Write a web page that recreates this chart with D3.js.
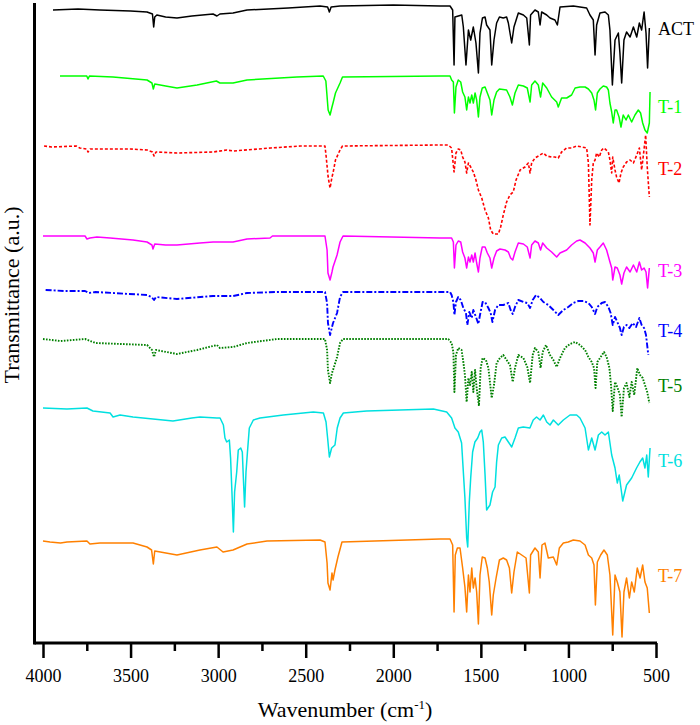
<!DOCTYPE html>
<html lang="en">
<head>
    <meta charset="UTF-8">
    <title>FTIR spectra</title>
    <style>
        body { margin: 0; background: #fff; }
        text { font-family: "Liberation Serif", "Times New Roman", serif; }
        .spectrum { fill: none; stroke-linejoin: round; }
    </style>
    <script src="https://d3js.org/d3.v7.min.js"></script>
</head>
<body>
    <svg width="700" height="725"></svg>
    <script>
        // Spectra: [wavenumber (cm-1), transmittance (a.u., offset for stacking)]
        const act = [
            [3943,633],[3800,634],[3675,633],[3500,632],[3406,631],[3375,629],[3368,616],[3362,626],[3350,628],
            [3300,626],[3235,625],[3150,627],[3029,629],[3007,627],[2990,629],[2915,630],[2835,633],[2600,635],
            [2418,637],[2375,636],[2365,631],[2355,636],[2304,637],[2000,638],[1733,637],[1676,637],[1661,633],
            [1653,578],[1648,626],[1609,628],[1600,616],[1585,578],[1571,613],[1558,603],[1543,616],[1528,600],
            [1514,570],[1505,610],[1491,625],[1476,626],[1467,618],[1448,613],[1438,578],[1425,603],[1410,620],
            [1394,626],[1372,625],[1353,626],[1343,620],[1324,600],[1311,616],[1286,630],[1257,628],[1238,625],
            [1223,598],[1216,628],[1191,633],[1172,631],[1162,618],[1153,631],[1124,628],[1105,625],[1077,623],
            [1063,618],[1048,636],[972,637],[934,636],[896,635],[877,628],[858,623],[848,588],[839,618],[820,630],
            [791,631],[772,628],[763,613],[749,558],[734,603],[715,610],[706,590],[696,560],[683,603],[668,611],
            [648,606],[629,616],[610,606],[595,620],[582,613],[568,631],[557,610],[548,575],[538,615]
        ];
        const t1 = [
            [3903,567],[3800,567],[3750,567],[3743,564],[3735,567],[3600,566],[3406,563],[3378,560],[3370,554],
            [3362,559],[3300,557],[3235,555],[3120,558],[3010,562],[2990,560],[2915,560],[2835,563],[2550,566],
            [2400,567],[2385,562],[2372,533],[2361,528],[2350,536],[2344,540],[2330,550],[2304,560],[2290,566],
            [1733,567],[1676,567],[1667,563],[1657,561],[1651,530],[1642,556],[1629,563],[1615,561],[1604,551],
            [1591,546],[1581,533],[1571,546],[1562,540],[1552,548],[1543,540],[1533,550],[1524,543],[1514,526],
            [1505,546],[1492,555],[1476,556],[1463,550],[1448,543],[1438,528],[1425,543],[1410,551],[1394,554],
            [1353,553],[1334,546],[1320,538],[1305,550],[1286,558],[1257,557],[1235,555],[1219,541],[1210,558],
            [1191,562],[1172,558],[1159,546],[1147,560],[1124,555],[1096,546],[1067,541],[1058,536],[1039,545],
            [1010,545],[982,548],[962,555],[934,556],[905,556],[886,554],[867,550],[854,543],[845,533],[835,550],
            [820,554],[801,557],[782,556],[772,553],[763,540],[753,531],[744,520],[734,533],[725,533],[711,526],
            [700,516],[687,528],[671,523],[658,528],[639,521],[620,528],[601,533],[588,530],[576,520],[563,513],
            [550,510],[538,520],[534,551]
        ];
        const t2 = [
            [3994,497],[3950,496],[3810,497],[3790,495],[3750,494],[3743,491],[3730,494],[3500,494],[3406,493],
            [3375,491],[3366,487],[3355,491],[3235,490],[3029,491],[2950,493],[2915,492],[2700,495],[2530,497],
            [2390,497],[2383,486],[2372,466],[2361,455],[2350,466],[2344,470],[2330,483],[2304,493],[2290,497],
            [1733,498],[1686,498],[1667,495],[1653,471],[1642,490],[1629,494],[1615,493],[1604,486],[1591,481],
            [1581,470],[1571,480],[1558,476],[1543,471],[1528,463],[1514,453],[1495,445],[1476,433],[1457,425],
            [1444,413],[1429,409],[1400,409],[1387,416],[1372,428],[1353,441],[1334,448],[1315,451],[1299,463],
            [1276,473],[1248,476],[1229,480],[1219,470],[1210,480],[1191,485],[1162,488],[1143,490],[1124,487],
            [1096,486],[1077,486],[1058,485],[1039,491],[1010,495],[982,495],[953,497],[924,496],[896,495],
            [886,480],[877,418],[867,463],[858,480],[848,483],[839,490],[824,486],[810,493],[797,495],[772,491],
            [763,483],[753,470],[747,486],[734,473],[725,466],[711,460],[700,470],[687,476],[668,481],[648,483],
            [629,480],[610,488],[595,495],[582,473],[572,488],[559,508],[550,476],[538,446]
        ];
        const t3 = [
            [4000,407],[3760,407],[3749,404],[3732,405],[3692,406],[3617,405],[3486,403],[3406,401],[3378,398],
            [3372,394],[3362,399],[3300,398],[3235,398],[3104,400],[3029,401],[2915,401],[2835,404],[2704,405],
            [2690,407],[2390,407],[2378,393],[2373,370],[2361,363],[2350,371],[2344,376],[2321,388],[2304,401],
            [2287,407],[1733,405],[1667,405],[1657,401],[1651,375],[1642,398],[1629,402],[1615,401],[1604,391],
            [1591,385],[1581,375],[1571,386],[1562,381],[1552,388],[1543,381],[1533,390],[1524,380],[1514,371],
            [1505,385],[1492,396],[1476,396],[1463,390],[1448,385],[1438,375],[1425,385],[1410,392],[1391,394],
            [1362,393],[1343,391],[1330,385],[1318,383],[1305,391],[1286,400],[1257,399],[1235,396],[1219,385],
            [1210,398],[1191,402],[1172,400],[1159,393],[1147,400],[1124,395],[1096,391],[1067,386],[1048,390],
            [1010,393],[982,398],[953,402],[934,403],[905,400],[877,395],[858,390],[848,381],[835,393],[820,396],
            [801,400],[782,393],[763,381],[753,375],[747,363],[734,376],[721,375],[706,368],[696,359],[683,370],
            [668,376],[648,371],[629,378],[610,371],[595,381],[582,373],[568,375],[557,371],[548,355],[538,375]
        ];
        const t4 = [
            [3985,353],[3875,352],[3760,352],[3738,350],[3700,351],[3406,348],[3380,346],[3366,343],[3355,346],
            [3235,344],[3029,347],[2915,347],[2835,350],[2664,351],[2390,351],[2378,340],[2373,320],[2361,308],
            [2350,316],[2344,320],[2321,330],[2304,346],[2287,351],[1733,351],[1676,351],[1667,348],[1657,341],
            [1651,328],[1642,341],[1629,346],[1615,343],[1600,335],[1585,330],[1577,318],[1566,331],[1552,325],
            [1543,333],[1528,326],[1514,319],[1505,328],[1490,341],[1476,341],[1457,335],[1444,330],[1434,321],
            [1419,333],[1400,338],[1372,338],[1343,340],[1330,333],[1318,329],[1305,336],[1286,343],[1257,341],
            [1235,340],[1219,335],[1204,343],[1185,348],[1162,345],[1143,341],[1115,338],[1086,333],[1058,328],
            [1029,333],[1001,336],[972,340],[943,342],[915,342],[886,340],[867,336],[848,329],[835,336],[810,340],
            [791,341],[772,336],[759,330],[747,318],[734,326],[721,321],[706,315],[696,308],[683,316],[668,318],
            [652,315],[633,320],[614,316],[595,325],[582,318],[568,315],[557,308],[544,288]
        ];
        const t5 = [
            [4000,304],[3900,302],[3760,304],[3700,300],[3406,298],[3378,293],[3366,286],[3355,293],[3235,289],
            [3120,293],[3007,298],[2990,295],[2915,296],[2835,300],[2664,304],[2390,304],[2378,293],[2373,273],
            [2361,260],[2350,270],[2344,273],[2321,286],[2304,300],[2287,304],[1733,304],[1686,304],[1667,300],
            [1657,291],[1651,251],[1642,288],[1629,295],[1610,293],[1600,281],[1591,268],[1581,241],[1571,265],
            [1562,258],[1552,271],[1543,251],[1533,273],[1524,255],[1511,237],[1501,275],[1490,285],[1471,283],
            [1457,275],[1448,261],[1438,245],[1425,258],[1410,280],[1391,285],[1372,288],[1353,283],[1334,278],
            [1318,261],[1305,275],[1286,288],[1257,285],[1235,276],[1219,260],[1204,288],[1191,295],[1172,291],
            [1159,275],[1147,291],[1128,298],[1105,288],[1086,283],[1067,276],[1048,285],[1020,295],[991,299],
            [962,301],[934,298],[905,293],[886,286],[867,281],[854,275],[845,255],[835,281],[816,286],[797,291],
            [782,286],[766,275],[757,258],[747,232],[734,261],[721,256],[706,248],[696,226],[683,255],[668,260],
            [652,246],[639,261],[624,248],[607,275],[591,268],[576,265],[563,258],[550,251],[538,240]
        ];
        const t6 = [
            [4000,235],[3863,234],[3749,235],[3715,232],[3617,230],[3600,226],[3560,228],[3486,226],[3372,224],
            [3258,222],[3150,225],[3104,226],[3007,225],[2989,225],[2970,218],[2961,205],[2951,201],[2936,203],
            [2929,185],[2921,150],[2913,111],[2906,151],[2894,171],[2885,193],[2871,195],[2862,191],[2856,165],
            [2849,136],[2841,171],[2833,190],[2822,215],[2799,223],[2761,225],[2628,228],[2457,231],[2399,230],
            [2384,221],[2375,205],[2365,186],[2352,195],[2333,198],[2320,215],[2304,225],[2285,230],[2152,232],
            [1962,233],[1771,234],[1695,231],[1667,225],[1648,215],[1629,211],[1610,200],[1591,145],[1581,105],
            [1575,96],[1566,141],[1558,165],[1547,191],[1534,201],[1518,205],[1505,211],[1495,213],[1486,201],
            [1476,168],[1467,133],[1448,138],[1433,151],[1419,156],[1410,181],[1400,198],[1381,205],[1362,206],
            [1343,201],[1324,196],[1305,205],[1286,215],[1258,216],[1220,215],[1201,223],[1182,226],[1162,223],
            [1143,228],[1124,221],[1105,218],[1086,223],[1058,218],[1029,223],[991,228],[953,228],[934,225],
            [905,215],[886,193],[867,205],[848,193],[829,208],[810,211],[791,208],[772,211],[753,188],[734,175],
            [721,160],[710,168],[690,142],[668,158],[639,165],[611,175],[592,181],[576,185],[563,175],[553,188],
            [544,166],[534,195]
        ];
        const t7 = [
            [4000,102],[3960,101],[3900,100],[3863,101],[3749,102],[3732,99],[3675,100],[3486,100],[3406,96],
            [3380,93],[3370,79],[3362,92],[3235,88],[3104,93],[3007,96],[2972,91],[2915,93],[2835,99],[2721,102],
            [2418,103],[2390,101],[2378,80],[2373,60],[2361,53],[2350,70],[2344,63],[2333,73],[2316,86],[2293,101],
            [1733,104],[1676,104],[1661,98],[1653,31],[1646,88],[1634,95],[1619,95],[1604,75],[1591,56],[1581,31],
            [1571,68],[1562,51],[1552,75],[1543,55],[1533,65],[1524,51],[1514,19],[1505,68],[1492,86],[1476,85],
            [1463,75],[1452,61],[1438,28],[1429,48],[1413,65],[1394,83],[1372,85],[1353,83],[1337,75],[1324,50],
            [1311,71],[1292,91],[1267,88],[1242,85],[1223,50],[1216,88],[1191,95],[1172,91],[1162,65],[1151,98],
            [1134,100],[1115,85],[1086,86],[1067,78],[1052,95],[1029,100],[1001,101],[972,103],[934,102],[905,98],
            [886,88],[867,85],[854,78],[846,38],[835,81],[816,88],[797,93],[778,88],[763,68],[747,8],[734,68],
            [721,61],[706,51],[694,6],[683,51],[668,65],[652,45],[639,61],[624,51],[607,75],[591,65],[576,78],
            [563,61],[550,55],[538,30]
        ];

        const seriesNames = ["ACT", "T-1", "T-2", "T-3", "T-4", "T-5", "T-6", "T-7"];
        const seriesData = [act, t1, t2, t3, t4, t5, t6, t7];
        // where each name sits on the right, in the same a.u. as the spectra
        const labelLevels = [608, 530, 468, 366, 306, 251, 176, 61];
        const xTicks = [4000, 3500, 3000, 2500, 2000, 1500, 1000, 500];
        const xMinorTicks = [3750, 3250, 2750, 2250, 1750, 1250, 750];

        // Line styles for each trace
        const styles = [
            { color: "#000000", width: 1.5, dash: null },
            { color: "#00ff00", width: 1.5, dash: null },
            { color: "#ff0000", width: 1.6, dash: "3,2" },
            { color: "#ff00ff", width: 1.5, dash: null },
            { color: "#0000ff", width: 1.9, dash: "6,2,2,2" },
            { color: "#008000", width: 1.9, dash: "1.6,1.4" },
            { color: "#00e0e0", width: 1.5, dash: null },
            { color: "#ff8000", width: 1.5, dash: null }
        ];

        const svg = d3.select("svg");

        const x = d3.scaleLinear().domain([4000, 500]).range([43, 656]);
        const y = d3.scaleLinear().domain([0, 635]).range([643, 8]);

        const line = d3.line()
            .x(d => x(d[0]))
            .y(d => y(d[1]));

        // Draw the spectra
        svg.append("g")
            .selectAll("path")
            .data(seriesData)
            .enter().append("path")
            .attr("class", "spectrum")
            .attr("d", line)
            .attr("stroke", (d, i) => styles[i].color)
            .attr("stroke-width", (d, i) => styles[i].width)
            .attr("stroke-dasharray", (d, i) => styles[i].dash);

        // Series names at the right end
        svg.append("g")
            .selectAll("text")
            .data(seriesNames)
            .enter().append("text")
            .attr("x", x(500) + 2)
            .attr("y", (d, i) => y(labelLevels[i]))
            .attr("font-size", 18)
            .attr("fill", (d, i) => styles[i].color)
            .text(d => d);

        // X axis: major ticks with labels, minor ticks without
        const xAxis = svg.append("g")
            .attr("transform", "translate(0,643)")
            .call(d3.axisBottom(x).tickValues(xTicks).tickSize(15).tickSizeOuter(0).tickFormat(d3.format("d")));
        xAxis.select(".domain").remove();
        xAxis.selectAll(".tick line").attr("stroke", "#000").attr("stroke-width", 2.5);
        xAxis.selectAll(".tick text")
            .attr("y", 26)
            .attr("dy", "0.71em")
            .attr("font-size", 18)
            .attr("font-family", "Liberation Serif, serif")
            .attr("fill", "#000");

        const xMinor = svg.append("g")
            .attr("transform", "translate(0,643)")
            .call(d3.axisBottom(x).tickValues(xMinorTicks).tickSize(8).tickFormat(""));
        xMinor.select(".domain").remove();
        xMinor.selectAll(".tick line").attr("stroke", "#000").attr("stroke-width", 2.5);

        // Axis lines
        svg.append("line")
            .attr("x1", 34.5).attr("x2", 657)
            .attr("y1", 643).attr("y2", 643)
            .attr("stroke", "#000").attr("stroke-width", 3);
        svg.append("line")
            .attr("x1", 34.5).attr("x2", 34.5)
            .attr("y1", 3).attr("y2", 644.5)
            .attr("stroke", "#000").attr("stroke-width", 3);

        // Axis titles
        const xTitle = svg.append("text")
            .attr("x", 345)
            .attr("y", 717)
            .attr("text-anchor", "middle")
            .attr("font-size", 22);
        xTitle.append("tspan").text("Wavenumber (cm");
        xTitle.append("tspan").attr("dy", -8).attr("font-size", 13).text("-1");
        xTitle.append("tspan").attr("dy", 8).text(")");

        svg.append("text")
            .attr("transform", "translate(19,295) rotate(-90)")
            .attr("text-anchor", "middle")
            .attr("font-size", 22)
            .text("Transmittance (a.u.)");
    </script>
</body>
</html>
